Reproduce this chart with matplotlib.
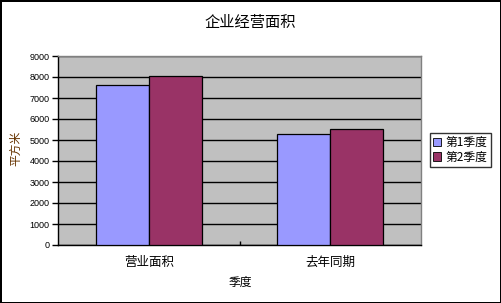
import numpy as np
import matplotlib.pyplot as plt
from matplotlib.patches import Patch

plt.rcParams['font.family'] = ['Noto Sans CJK SC', 'DejaVu Sans']

# Data
categories = ['营业面积', '去年同期']
series_names = ['第1季度', '第2季度']
q1_values = [7600, 5290]
q2_values = [8050, 5510]
colors = ['#9999FF', '#993366']

W, H = 501, 303
fig = plt.figure(figsize=(W / 100, H / 100), dpi=100)
fig.patch.set_facecolor('white')
fig.patch.set_edgecolor('black')
fig.patch.set_linewidth(2)

# plot area in pixels: x 58..421, y 56..245
ax = fig.add_axes([58 / W, (H - 245) / H, 363 / W, 189 / H])
ax.set_facecolor('#C0C0C0')

x = np.arange(len(categories))
bw = 0.292
ax.bar(x - bw / 2, q1_values, bw, color=colors[0], edgecolor='black', linewidth=0.9, zorder=3)
ax.bar(x + bw / 2, q2_values, bw, color=colors[1], edgecolor='black', linewidth=0.9, zorder=3)

ax.set_xlim(-0.5, len(categories) - 0.5)
ax.set_ylim(0, 9000)
ax.set_yticks(np.arange(0, 9001, 1000))
ax.yaxis.grid(True, color='black', linewidth=1)
ax.set_axisbelow(True)

ax.set_xticks(x)
ax.set_xticklabels(categories, fontsize=9)
ax.set_xticks([0.5], minor=True)
ax.tick_params(axis='x', which='major', length=0, pad=8)
ax.tick_params(axis='x', which='minor', direction='in', length=3, width=1)
ax.tick_params(axis='y', length=4, width=1, pad=2)
for lab in ax.get_yticklabels():
    lab.set_fontfamily('Liberation Sans')
    lab.set_fontsize(6.5)

for side in ['top', 'right']:
    ax.spines[side].set_color('#808080')
    ax.spines[side].set_linewidth(1)
for side in ['left', 'bottom']:
    ax.spines[side].set_color('black')
    ax.spines[side].set_linewidth(1)

# Titles
fig.text(250 / W, 1 - 22 / H, '企业经营面积', ha='center', va='center', fontsize=11)
fig.text(240 / W, 1 - 282 / H, '季度', ha='center', va='center', fontsize=8.5)
fig.text(16 / W, 1 - 148 / H, '平方米', ha='center', va='center', rotation=90,
         fontsize=8.5, color='#663300')

# Legend
handles = [Patch(facecolor=c, edgecolor='black', linewidth=0.6) for c in colors]
leg = fig.legend(handles, series_names, loc='upper left',
                 bbox_to_anchor=(430 / W, 1 - 133 / H), fontsize=8.5,
                 frameon=True, fancybox=False, edgecolor='black',
                 handlelength=0.7, handleheight=0.7, handletextpad=0.4,
                 borderpad=0.25, labelspacing=0.15, borderaxespad=0)
leg.get_frame().set_linewidth(1)

fig.savefig('out.png', dpi=100)
